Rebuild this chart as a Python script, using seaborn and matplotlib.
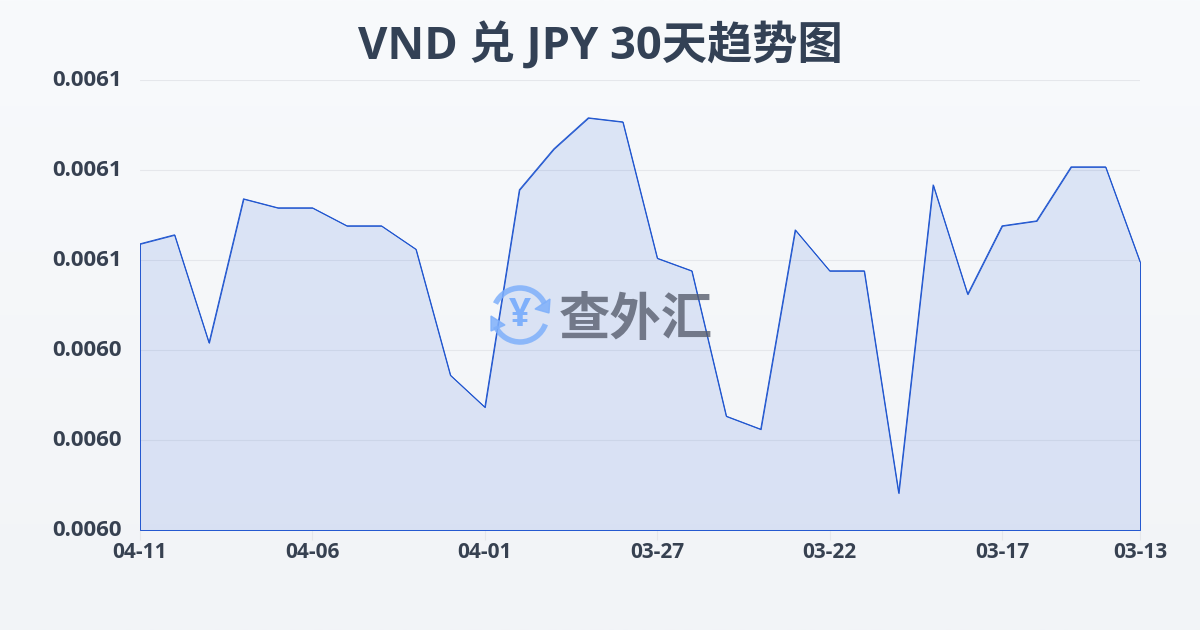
import numpy as np
import pandas as pd
import seaborn as sns
import matplotlib.pyplot as plt
from matplotlib.patches import Arc, Polygon
from matplotlib.transforms import ScaledTranslation

# --- dados ---
dates = ["04-11", "04-10", "04-09", "04-08", "04-07", "04-06", "04-05", "04-04", "04-03", "04-02",
         "04-01", "03-31", "03-30", "03-29", "03-28", "03-27", "03-26", "03-25", "03-24", "03-23",
         "03-22", "03-21", "03-20", "03-19", "03-18", "03-17", "03-16", "03-15", "03-14", "03-13"]
rates = [0.0060636, 0.0060656, 0.0060416, 0.0060736, 0.0060716, 0.0060716, 0.0060676, 0.0060676,
         0.0060624, 0.0060344, 0.0060273, 0.0060756, 0.0060847, 0.0060916, 0.0060907, 0.0060604,
         0.0060576, 0.0060253, 0.0060224, 0.0060667, 0.0060576, 0.0060576, 0.0060082, 0.0060767,
         0.0060524, 0.0060676, 0.0060687, 0.0060807, 0.0060807, 0.0060596]
y_ticks = [0.00600, 0.00602, 0.00604, 0.00606, 0.00608, 0.00610]
x_tick_labels = ["04-11", "04-06", "04-01", "03-27", "03-22", "03-17", "03-13"]

TEXT = "#374151"
TITLE = "#334155"
LINE = "#1f55cf"

sns.set_theme(style="white")
plt.rcParams['font.family'] = ['Open Sans', 'Noto Sans CJK SC', 'DejaVu Sans']

df = pd.DataFrame({"date": dates, "rate": rates})

fig = plt.figure(figsize=(12, 6.3), dpi=100)

# fundo em degradê
bg = fig.add_axes([0, 0, 1, 1], zorder=0)
bg.imshow(np.linspace(0, 1, 256).reshape(-1, 1), aspect='auto', extent=[0, 1, 0, 1],
          cmap=sns.blend_palette(["#f8fafc", "#f2f4f7"], as_cmap=True))
bg.axis('off')

ax = fig.add_axes([140 / 1200, 1 - 530 / 630, 1000 / 1200, 450 / 630], zorder=1)
ax.patch.set_alpha(0)

sns.lineplot(data=df, x="date", y="rate", sort=False, color=LINE, linewidth=0.7, ax=ax, zorder=3)
ax.fill_between(range(len(dates)), rates, y_ticks[0], facecolor=(0.145, 0.36, 0.85, 0.125),
                edgecolor=LINE, linewidth=0.7, zorder=2, clip_on=False)

ax.set_xlim(0, len(dates) - 1)
ax.set_ylim(y_ticks[0], y_ticks[-1])
ax.set_yticks(y_ticks)
ax.set_yticklabels([f"{v:.4f}" for v in y_ticks], fontsize=16, fontweight='bold', color=TEXT)
ax.set_xticks([dates.index(d) for d in x_tick_labels])
ax.set_xticklabels(x_tick_labels, fontsize=15, fontweight='bold', color=TEXT)
ax.set_xlabel("")
ax.set_ylabel("")
ax.grid(axis='y', color="#e5e7eb", linewidth=0.8)
ax.set_axisbelow(True)
ax.tick_params(axis='x', length=7, width=0.8, color="#e5e7eb", pad=2, bottom=True)
ax.tick_params(axis='y', length=0, pad=13)
sns.despine(ax=ax, left=True, bottom=True)

# os rótulos do eixo y ficam um pouco acima das linhas
shift_up = ScaledTranslation(0, 2 / 100, fig.dpi_scale_trans)
for lab in ax.get_yticklabels():
    lab.set_transform(lab.get_transform() + shift_up)

fig.text(0.5, 1 - 47 / 630, "VND 兑 JPY 30天趋势图", ha='center', va='center',
         fontsize=32.6, fontweight='bold', color=TITLE)

# marca d'água, em pixels
wm = fig.add_axes([0, 0, 1, 1], zorder=2)
wm.set_xlim(0, 1200)
wm.set_ylim(630, 0)
wm.axis('off')
BLUE = "#7fb0fb"
wm.add_patch(Arc((520, 315), 54, 54, theta1=205, theta2=335, color=BLUE, lw=4, alpha=0.85))
wm.add_patch(Arc((520, 315), 54, 54, theta1=20, theta2=155, color=BLUE, lw=4, alpha=0.85))
wm.add_patch(Polygon([[535, 309], [550, 299], [549, 313]], color=BLUE, alpha=0.85))
wm.add_patch(Polygon([[491, 316], [505, 325], [491, 331]], color=BLUE, alpha=0.85))
wm.text(520, 315, "¥", ha='center', va='center', fontsize=28, fontweight='bold', color=BLUE)
wm.text(636, 319, "查外汇", ha='center', va='center', fontsize=37, fontweight='bold',
        color="#555b6b", alpha=0.78, family=['Noto Sans CJK SC', 'DejaVu Sans'])

fig.savefig("out.png", dpi=100)
